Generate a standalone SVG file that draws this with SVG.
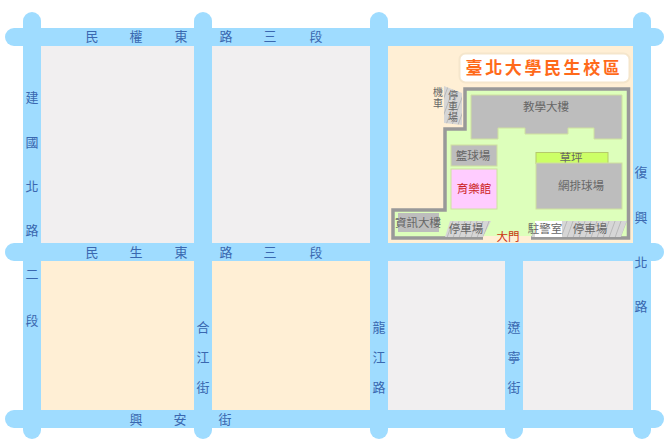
<svg xmlns="http://www.w3.org/2000/svg" width="664" height="439" viewBox="0 0 664 439">
<defs>
<style>
text{font-family:"Noto Sans CJK TC","Liberation Sans",sans-serif}
.road{fill:#9fdcff}
.grey{fill:#f1eff0}
.peach{fill:#ffefd5}
.rl{font-size:13px;fill:#3a68b0;text-anchor:middle}
.bl{font-size:11.5px;fill:#666;text-anchor:middle}
.sm{font-size:10px;fill:#666;text-anchor:middle}
.bd{fill:#bdbdbd}
</style>
<pattern id="hatch" width="6" height="6" patternUnits="userSpaceOnUse" patternTransform="skewX(-20)">
<rect width="6" height="6" fill="#d6d6d6"/><path d="M5.500 0V6" stroke="#b8b8b8" stroke-width="1"/>
</pattern>
</defs>
<rect width="664" height="439" fill="#fff"/>
<g id="blocks">
<rect class="grey" x="41" y="46" width="153" height="197"/>
<rect class="grey" x="212" y="46" width="158" height="197"/>
<rect class="peach" x="41" y="261" width="153" height="149"/>
<rect class="peach" x="212" y="261" width="158" height="149"/>
<rect class="grey" x="388" y="261" width="117" height="149"/>
<rect class="grey" x="523" y="261" width="110" height="149"/>
<rect class="peach" x="388" y="46" width="245" height="197"/>
</g>
<g id="roads">
<path class="road" d="M14 28H655a9 9 0 0 1 0 18H14a9 9 0 0 1 0-18Z"/>
<path class="road" d="M14 243H655a9 9 0 0 1 0 18H14a9 9 0 0 1 0-18Z"/>
<path class="road" d="M14 410H655a9 9 0 0 1 0 18H14a9 9 0 0 1 0-18Z"/>
<path class="road" d="M23 21a9 9 0 0 1 18 0V430a9 9 0 0 1-18 0Z"/>
<path class="road" d="M194 21a9 9 0 0 1 18 0V430a9 9 0 0 1-18 0Z"/>
<path class="road" d="M370 21a9 9 0 0 1 18 0V430a9 9 0 0 1-18 0Z"/>
<path class="road" d="M505 250H523V430a9 9 0 0 1-18 0Z"/>
<path class="road" d="M633 21a9 9 0 0 1 18 0V430a9 9 0 0 1-18 0Z"/>
</g>
<g id="campus">
<path d="M465 89H628.500V238H393V210H445V129H465Z" fill="#ddffbb" stroke="#999" stroke-width="3.500"/>
<rect x="483" y="236" width="48" height="5" fill="#ffefd5"/>
<path d="M444 86L462 93V125L444 123Z" fill="url(#hatch)"/>
<text class="sm" x="438 438" y="96 107">機車</text>
<text class="sm" x="453 453 453" y="99 110 121">停車場</text>
</g>
<g id="title">
<rect x="459.500" y="53.500" width="170" height="29" rx="6" fill="#fff" stroke="#f5e6cc" stroke-width="2"/>
<text x="544" y="74" font-size="17" font-weight="700" fill="#ff6a1a" text-anchor="middle" letter-spacing="2.600">臺北大學民生校區</text>
</g>
<g id="teaching">
<path class="bd" stroke="#cfe0a0" d="M471 95H622V139H594V128H568V134H525V128H498V139H471Z"/>
<text class="bl" x="546" y="111">教學大樓</text>
</g>
<g id="basketball">
<rect class="bd" x="451" y="145" width="46" height="21" stroke="#cfe0a0"/>
<text class="bl" x="473" y="160">籃球場</text>
</g>
<g id="gym">
<rect x="451" y="169" width="46" height="40" fill="#ffccff" stroke="#cfe0a0"/>
<text class="bl" x="474" y="193" style="fill:#cc2222">育樂館</text>
</g>
<g id="grass">
<rect x="536" y="152.500" width="72" height="11" fill="#ccff66" stroke="#b5c96a"/>
<text class="bl" x="571" y="162">草坪</text>
</g>
<g id="tennis">
<rect class="bd" x="536" y="163" width="86" height="46" stroke="#cfe0a0"/>
<text class="bl" x="581" y="190">網排球場</text>
</g>
<g id="info">
<rect class="bd" x="398" y="213" width="41" height="19"/>
<text class="bl" x="418" y="227">資訊大樓</text>
</g>
<g id="parking1">
<path d="M450 221H491L483 237H445Z" fill="url(#hatch)"/>
<text class="bl" x="466" y="233">停車場</text>
</g>
<g id="parking2">
<path d="M540 221H627L621 237H531Z" fill="url(#hatch)"/>
<text class="bl" x="590" y="233">停車場</text>
</g>
<g id="guard">
<rect x="535" y="221" width="27" height="16" fill="#fff"/>
<text class="bl" x="545" y="233">駐警室</text>
</g>
<g id="gate">
<text class="bl" x="508" y="241" style="fill:#cc3311">大門</text>
</g>
<g id="labels">
<text class="rl" x="92 136 181 226 270 316" y="41">民權東路三段</text>
<text class="rl" x="92 136 181 226 270 316" y="257">民生東路三段</text>
<text class="rl" x="136 180 225" y="424">興安街</text>
<text class="rl" x="32 32 32 32 32 32" y="102 147 191 235 279 325">建國北路二段</text>
<text class="rl" x="641 641 641 641" y="177 222 267 311">復興北路</text>
<text class="rl" x="203 203 203" y="332 362 392">合江街</text>
<text class="rl" x="379 379 379" y="332 362 392">龍江路</text>
<text class="rl" x="514 514 514" y="332 362 392">遼寧街</text>
</g>
</svg>
